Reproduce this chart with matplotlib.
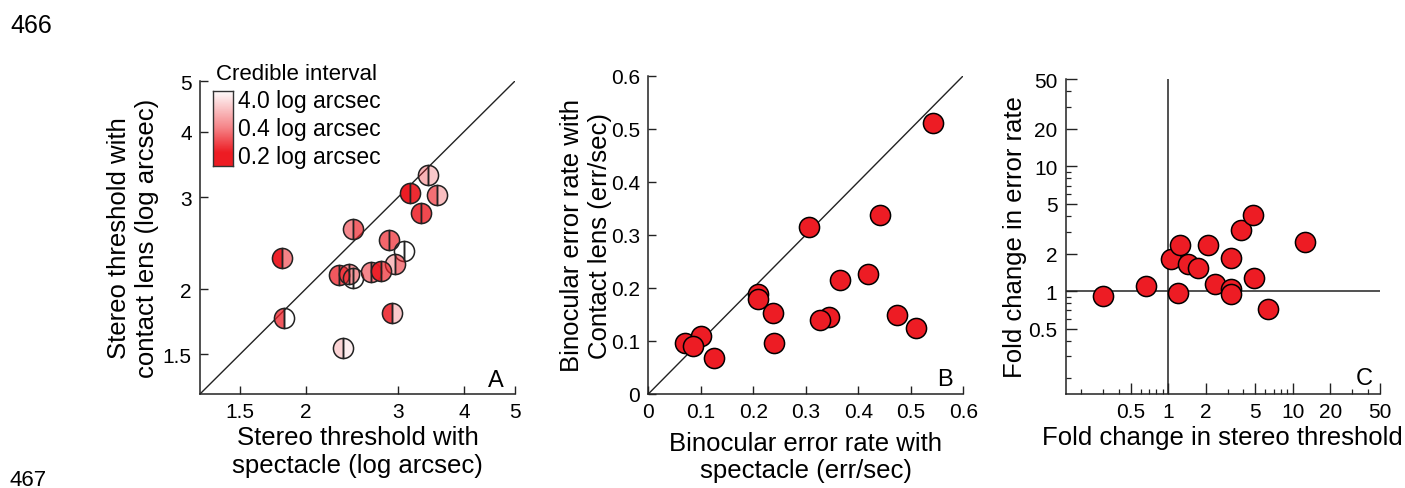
import matplotlib
matplotlib.use('Agg')
import matplotlib.pyplot as plt
import numpy as np
from matplotlib.ticker import FixedLocator, FixedFormatter, NullFormatter, LogLocator

plt.rcParams['font.family'] = ['Liberation Sans', 'DejaVu Sans']

# --- panel A: stereo thresholds (log arcsec), halves coloured by credible interval
stereo_spec = [3.42, 3.16, 3.56, 3.32, 2.46, 2.88, 3.08, 1.80, 2.96, 2.31, 2.42, 2.46, 2.66, 2.78, 1.82, 2.92, 2.36]
stereo_cl = [3.30, 3.05, 3.02, 2.79, 2.61, 2.48, 2.37, 2.29, 2.23, 2.13, 2.14, 2.10, 2.16, 2.17, 1.76, 1.80, 1.54]
ci_spec = [1.0, 0.2, 0.35, 0.25, 0.45, 0.33, 4.0, 0.21, 1.2, 0.3, 0.5, 4.0, 0.45, 0.22, 0.3, 0.25, 1.8]
ci_cl = [1.5, 0.22, 1.2, 0.27, 0.33, 0.33, 4.0, 0.4, 0.4, 0.3, 0.6, 4.0, 0.4, 0.33, 4.0, 1.5, 3.0]
ci_ticks = [0.2, 0.4, 4.0]
a_ticks = [1.5, 2, 3, 4, 5]

# --- panel B: binocular error rate (err/sec)
err_spec = [0.543, 0.441, 0.307, 0.365, 0.418, 0.208, 0.208, 0.238, 0.344, 0.327, 0.474, 0.509, 0.069, 0.100, 0.086, 0.125, 0.239]
err_cl = [0.510, 0.338, 0.314, 0.215, 0.226, 0.189, 0.179, 0.153, 0.146, 0.139, 0.149, 0.124, 0.097, 0.109, 0.090, 0.068, 0.096]
b_ticks = [0, 0.1, 0.2, 0.3, 0.4, 0.5, 0.6]

# --- panel C: fold changes
fold_stereo = [0.300, 0.661, 1.05, 1.23, 1.44, 1.74, 2.10, 3.16, 2.35, 3.20, 3.16, 1.19, 3.85, 4.77, 4.83, 6.35, 12.5]
fold_err = [0.922, 1.10, 1.81, 2.36, 1.65, 1.54, 2.32, 1.84, 1.14, 1.04, 0.951, 0.964, 3.11, 4.10, 1.28, 0.713, 2.48]
c_ticks = [0.5, 1, 2, 5, 10, 20, 50]

RED = '#ed1c24'
W, H = 1405, 489
fig = plt.figure(figsize=(W / 100, H / 100), dpi=100)

def px_axes(l, t, r, b):
    return fig.add_axes([l / W, 1 - b / H, (r - l) / W, (b - t) / H])

def ci_alpha(ci):
    # 0.2 -> solid red, 0.4 -> salmon, 4.0 -> white
    return np.interp(np.log10(ci), np.log10(ci_ticks), [1.0, 0.55, 0.0])

def style(ax):
    for s in ['top', 'right']:
        ax.spines[s].set_visible(False)
    for s in ['left', 'bottom']:
        ax.spines[s].set_linewidth(1.1)
        ax.spines[s].set_color('#222222')
    ax.tick_params(which='major', direction='in', length=6, width=1.0, labelsize=15, pad=6, color='#222222')
    ax.tick_params(which='minor', direction='in', length=3.5, width=0.9, color='#222222')

lab_kw = dict(fontsize=18.5, linespacing=1.2)

# ---------------- A
axA = px_axes(200, 82, 515, 395)
alim = [1.26, 5.0]
axA.set_xscale('log')
axA.set_yscale('log')
axA.set_xlim(alim)
axA.set_ylim(alim)
axA.plot(alim, alim, color='#222222', lw=1.0, zorder=1)
for x, y, cl, cr in zip(stereo_spec, stereo_cl, ci_spec, ci_cl):
    axA.plot(x, y, 'o', ms=14.5, fillstyle='left',
             markerfacecolor=(0.93, 0.11, 0.14, ci_alpha(cl)),
             markerfacecoloralt=(0.93, 0.11, 0.14, ci_alpha(cr)),
             markeredgecolor='#222222', mew=1.1, zorder=3)
for axis in [axA.xaxis, axA.yaxis]:
    axis.set_major_locator(FixedLocator(a_ticks))
    axis.set_major_formatter(FixedFormatter(['%g' % t for t in a_ticks]))
    axis.set_minor_locator(FixedLocator([]))
style(axA)
axA.set_xlabel('Stereo threshold with\nspectacle (log arcsec)', **lab_kw)
axA.set_ylabel('Stereo threshold with\ncontact lens (log arcsec)', **lab_kw)
axA.xaxis.set_label_coords(0.5, -0.1)
axA.yaxis.set_label_coords(-0.13, 0.5)
axA.text(0.963, 0.027, 'A', transform=axA.transAxes, ha='right', va='baseline', fontsize=17)

# colour key: white (4.0) at top, red (0.2) at bottom
cax = px_axes(212.7, 91.7, 233.3, 167.3)
grad = np.linspace(0, 1, 200)[:, None]
alpha = np.interp(grad, [0, 0.5, 0.82, 1.0], [0.0, 0.55, 1.0, 1.0])
rgba = np.zeros((200, 1, 4))
rgba[..., 0], rgba[..., 1], rgba[..., 2] = 0.93, 0.11, 0.14
rgba[..., 3] = alpha
cax.imshow(rgba, aspect='auto', extent=[0, 1, 0, 1])
cax.set_xticks([])
cax.set_yticks([])
for s in cax.spines.values():
    s.set_linewidth(1.0)
    s.set_color('#333333')
fig.text(297 / W, 1 - 80 / H, 'Credible interval', ha='center', va='baseline', fontsize=16)
for t, yb in zip(ci_ticks[::-1], [108, 136, 164]):
    fig.text(238 / W, 1 - yb / H, '%.1f log arcsec' % t, ha='left', va='baseline', fontsize=16.5)

# ---------------- B
axB = px_axes(648.3, 76.7, 963.3, 395)
axB.set_xlim(0, 0.6)
axB.set_ylim(0, 0.6)
axB.plot([0, 0.6], [0, 0.6], color='#222222', lw=1.0, zorder=1)
axB.plot(err_spec, err_cl, 'o', ms=14.5, color=RED, markeredgecolor='black', mew=1.1, zorder=3)
axB.set_xticks(b_ticks)
axB.set_yticks(b_ticks)
axB.set_xticklabels(['0' if t == 0 else '%.1f' % t for t in b_ticks])
axB.set_yticklabels(['0' if t == 0 else '%.1f' % t for t in b_ticks])
style(axB)
axB.set_xlabel('Binocular error rate with\nspectacle (err/sec)', **lab_kw)
axB.set_ylabel('Binocular error rate with\nContact lens (err/sec)', **lab_kw)
axB.xaxis.set_label_coords(0.5, -0.115)
axB.yaxis.set_label_coords(-0.115, 0.5)
axB.text(0.968, 0.028, 'B', transform=axB.transAxes, ha='right', va='baseline', fontsize=17)

# ---------------- C
axC = px_axes(1065.7, 80, 1380, 395)
clim = [0.15, 50]
axC.set_xscale('log')
axC.set_yscale('log')
axC.set_xlim(clim)
axC.set_ylim(clim)
axC.plot(clim, [1, 1], color='#222222', lw=1.1, zorder=1)
axC.plot([1, 1], clim, color='#222222', lw=1.1, zorder=1)
axC.plot(fold_stereo, fold_err, 'o', ms=14.5, color=RED, markeredgecolor='black', mew=1.1, zorder=3)
for axis in [axC.xaxis, axC.yaxis]:
    axis.set_major_locator(FixedLocator(c_ticks))
    axis.set_major_formatter(FixedFormatter(['%g' % t for t in c_ticks]))
    axis.set_minor_locator(LogLocator(base=10, subs=np.arange(1, 10)))
    axis.set_minor_formatter(NullFormatter())
style(axC)
axC.tick_params(which='major', length=8)
axC.set_xlabel('Fold change in stereo threshold', **lab_kw)
axC.set_ylabel('Fold change in error rate', **lab_kw)
axC.xaxis.set_label_coords(0.5, -0.1)
axC.yaxis.set_label_coords(-0.124, 0.5)
axC.text(0.977, 0.032, 'C', transform=axC.transAxes, ha='right', va='baseline', fontsize=17)

# page line numbers
num_font = ['Liberation Sans Narrow', 'Liberation Sans', 'DejaVu Sans']
fig.text(10 / W, 1 - 33 / H, '466', family=num_font, fontsize=18, va='baseline')
fig.text(10 / W, 1 - 486 / H, '467', family=num_font, fontsize=16, va='baseline')

fig.savefig('out.png', dpi=100, facecolor='white')
